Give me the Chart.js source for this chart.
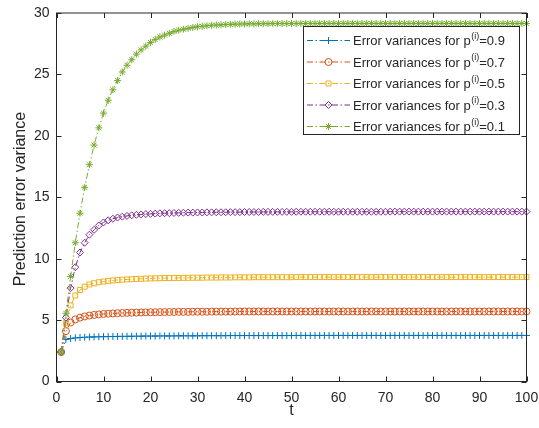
<!DOCTYPE html>
<html>
<head>
<meta charset="utf-8">
<title>Prediction error variance</title>
<script src="https://cdn.jsdelivr.net/npm/chart.js@4"></script>
<style>
  html, body { margin: 0; padding: 0; background: #fff; }
  #wrap { width: 539px; height: 428px; }
</style>
</head>
<body>
<div id="wrap"><canvas id="errChart" width="539" height="428"></canvas></div>
<script>
// time steps
const tValues = [
  1, 2, 3, 4, 5, 6, 7, 8, 9, 10,
  11, 12, 13, 14, 15, 16, 17, 18, 19, 20,
  21, 22, 23, 24, 25, 26, 27, 28, 29, 30,
  31, 32, 33, 34, 35, 36, 37, 38, 39, 40,
  41, 42, 43, 44, 45, 46, 47, 48, 49, 50,
  51, 52, 53, 54, 55, 56, 57, 58, 59, 60,
  61, 62, 63, 64, 65, 66, 67, 68, 69, 70,
  71, 72, 73, 74, 75, 76, 77, 78, 79, 80,
  81, 82, 83, 84, 85, 86, 87, 88, 89, 90,
  91, 92, 93, 94, 95, 96, 97, 98, 99, 100
];

const pLabels = ["0.9", "0.7", "0.5", "0.3", "0.1"];

const varP09 = [
  2.4, 3.42, 3.5, 3.55, 3.58, 3.6, 3.62, 3.63, 3.64, 3.65,
  3.66, 3.66, 3.67, 3.67, 3.68, 3.68, 3.69, 3.69, 3.7, 3.7,
  3.7, 3.71, 3.71, 3.71, 3.71, 3.72, 3.72, 3.72, 3.72, 3.72,
  3.73, 3.73, 3.73, 3.73, 3.73, 3.73, 3.74, 3.74, 3.74, 3.74,
  3.74, 3.74, 3.74, 3.74, 3.74, 3.74, 3.74, 3.74, 3.74, 3.74,
  3.75, 3.75, 3.75, 3.75, 3.75, 3.75, 3.75, 3.75, 3.75, 3.75,
  3.75, 3.75, 3.75, 3.75, 3.75, 3.75, 3.75, 3.75, 3.75, 3.75,
  3.75, 3.75, 3.75, 3.75, 3.75, 3.75, 3.75, 3.75, 3.75, 3.75,
  3.75, 3.75, 3.75, 3.75, 3.75, 3.75, 3.75, 3.75, 3.75, 3.75,
  3.75, 3.75, 3.75, 3.75, 3.75, 3.75, 3.75, 3.75, 3.75, 3.75
];

const varP07 = [
  2.4, 4.1, 4.8, 5.05, 5.2, 5.3, 5.37, 5.42, 5.46, 5.5,
  5.52, 5.54, 5.56, 5.58, 5.59, 5.6, 5.61, 5.62, 5.63, 5.64,
  5.64, 5.65, 5.65, 5.66, 5.66, 5.67, 5.67, 5.67, 5.68, 5.68,
  5.68, 5.68, 5.69, 5.69, 5.69, 5.69, 5.69, 5.7, 5.7, 5.7,
  5.7, 5.7, 5.7, 5.7, 5.7, 5.7, 5.7, 5.7, 5.7, 5.7,
  5.7, 5.7, 5.7, 5.7, 5.7, 5.7, 5.7, 5.7, 5.7, 5.7,
  5.7, 5.7, 5.7, 5.7, 5.7, 5.7, 5.7, 5.7, 5.7, 5.7,
  5.7, 5.7, 5.7, 5.7, 5.7, 5.7, 5.7, 5.7, 5.7, 5.7,
  5.7, 5.7, 5.7, 5.7, 5.7, 5.7, 5.7, 5.7, 5.7, 5.7,
  5.7, 5.7, 5.7, 5.7, 5.7, 5.7, 5.7, 5.7, 5.7, 5.7
];

const varP05 = [
  2.4, 4.75, 6.2, 7.0, 7.45, 7.72, 7.9, 8.0, 8.08, 8.14,
  8.19, 8.23, 8.26, 8.29, 8.31, 8.33, 8.35, 8.36, 8.38, 8.39,
  8.4, 8.41, 8.42, 8.42, 8.43, 8.43, 8.44, 8.44, 8.45, 8.45,
  8.45, 8.46, 8.46, 8.46, 8.47, 8.47, 8.47, 8.48, 8.48, 8.48,
  8.48, 8.49, 8.49, 8.49, 8.49, 8.49, 8.49, 8.49, 8.49, 8.49,
  8.5, 8.5, 8.5, 8.5, 8.5, 8.5, 8.5, 8.5, 8.5, 8.5,
  8.5, 8.5, 8.5, 8.5, 8.5, 8.5, 8.5, 8.5, 8.5, 8.5,
  8.5, 8.5, 8.5, 8.5, 8.5, 8.5, 8.5, 8.5, 8.5, 8.5,
  8.5, 8.5, 8.5, 8.5, 8.5, 8.5, 8.5, 8.5, 8.5, 8.5,
  8.5, 8.5, 8.5, 8.5, 8.5, 8.5, 8.5, 8.5, 8.5, 8.5
];

const varP03 = [
  2.4, 5.2, 7.6, 9.3, 10.5, 11.3, 11.95, 12.35, 12.7, 12.95,
  13.12, 13.25, 13.35, 13.42, 13.48, 13.53, 13.57, 13.6, 13.63, 13.65,
  13.67, 13.69, 13.7, 13.71, 13.72, 13.73, 13.74, 13.75, 13.75, 13.76,
  13.76, 13.77, 13.77, 13.78, 13.78, 13.78, 13.79, 13.79, 13.79, 13.8,
  13.8, 13.8, 13.8, 13.81, 13.81, 13.81, 13.81, 13.81, 13.81, 13.81,
  13.82, 13.82, 13.82, 13.82, 13.82, 13.82, 13.82, 13.82, 13.82, 13.82,
  13.82, 13.82, 13.82, 13.82, 13.82, 13.82, 13.82, 13.82, 13.82, 13.82,
  13.83, 13.83, 13.83, 13.83, 13.83, 13.83, 13.83, 13.83, 13.83, 13.83,
  13.83, 13.83, 13.83, 13.83, 13.83, 13.83, 13.83, 13.83, 13.83, 13.83,
  13.83, 13.83, 13.83, 13.83, 13.83, 13.83, 13.83, 13.83, 13.83, 13.83
];

const varP01 = [
  2.4, 5.55, 8.55, 11.3, 13.7, 15.8, 17.65, 19.25, 20.65, 21.85,
  22.9, 23.75, 24.5, 25.2, 25.75, 26.2, 26.65, 27.0, 27.3, 27.6,
  27.85, 28.05, 28.2, 28.35, 28.5, 28.6, 28.68, 28.75, 28.82, 28.88,
  28.92, 28.96, 29.0, 29.02, 29.04, 29.06, 29.08, 29.09, 29.1, 29.11,
  29.12, 29.12, 29.13, 29.13, 29.13, 29.14, 29.14, 29.14, 29.14, 29.14,
  29.15, 29.15, 29.15, 29.15, 29.15, 29.15, 29.15, 29.15, 29.15, 29.15,
  29.15, 29.15, 29.15, 29.15, 29.15, 29.15, 29.15, 29.15, 29.15, 29.15,
  29.15, 29.15, 29.15, 29.15, 29.15, 29.15, 29.15, 29.15, 29.15, 29.15,
  29.15, 29.15, 29.15, 29.15, 29.15, 29.15, 29.15, 29.15, 29.15, 29.15,
  29.15, 29.15, 29.15, 29.15, 29.15, 29.15, 29.15, 29.15, 29.15, 29.15
];

const xTicks = [0, 10, 20, 30, 40, 50, 60, 70, 80, 90, 100];
const yTicks = [0, 5, 10, 15, 20, 25, 30];

const FONT = "'Liberation Sans', Arial, Helvetica, sans-serif";
const AXIS_COLOR = "#262626";
const DASH_DOT = [6, 2.5, 1.5, 2.5];

function makeSeries(values, label, color, style, order) {
  return {
    label: label,
    data: tValues.map((t, i) => ({ x: t, y: values[i] })),
    borderColor: color,
    backgroundColor: "rgba(0,0,0,0)",
    borderWidth: 1,
    borderDash: DASH_DOT,
    pointStyle: style,
    pointRadius: 3.5,
    pointBorderWidth: 1,
    pointBorderColor: color,
    pointBackgroundColor: "rgba(0,0,0,0)",
    tension: 0,
    clip: 6,
    order: order,
  };
}

// box with inward ticks on all four sides, like matlab
const axesBoxPlugin = {
  id: "axesBox",
  afterDatasetsDraw(chart) {
    const { ctx, chartArea: a, scales } = chart;
    ctx.save();
    ctx.strokeStyle = AXIS_COLOR;
    ctx.lineWidth = 1;
    ctx.strokeRect(a.left, a.top, a.right - a.left, a.bottom - a.top);
    const len = 5;
    ctx.beginPath();
    xTicks.forEach((v) => {
      const x = Math.round(scales.x.getPixelForValue(v)) + 0.5;
      ctx.moveTo(x, a.bottom); ctx.lineTo(x, a.bottom - len);
      ctx.moveTo(x, a.top); ctx.lineTo(x, a.top + len);
    });
    yTicks.forEach((v) => {
      const y = Math.round(scales.y.getPixelForValue(v)) + 0.5;
      ctx.moveTo(a.left, y); ctx.lineTo(a.left + len, y);
      ctx.moveTo(a.right, y); ctx.lineTo(a.right - len, y);
    });
    ctx.stroke();
    ctx.restore();
  },
};

const axisTitlePlugin = {
  id: "axisTitles",
  afterDraw(chart) {
    const { ctx, chartArea: a } = chart;
    ctx.save();
    ctx.fillStyle = AXIS_COLOR;
    ctx.font = "16px " + FONT;
    ctx.textAlign = "center";
    ctx.textBaseline = "middle";
    ctx.fillText("t", (a.left + a.right) / 2, 411);
    ctx.translate(21, 199);
    ctx.rotate(-Math.PI / 2);
    ctx.fillText("Prediction error variance", 0, 0);
    ctx.restore();
  },
};

const legendBoxPlugin = {
  id: "legendBox",
  afterDraw(chart) {
    const ctx = chart.ctx;
    const box = { left: 303.5, top: 26.5, right: 519.5, bottom: 134.5 };
    ctx.save();
    ctx.fillStyle = "#fff";
    ctx.fillRect(box.left, box.top, box.right - box.left, box.bottom - box.top);
    ctx.strokeStyle = AXIS_COLOR;
    ctx.lineWidth = 1;
    ctx.strokeRect(box.left, box.top, box.right - box.left, box.bottom - box.top);

    chart.data.datasets.forEach((ds, i) => {
      const y = 40.5 + i * 21.5;
      ctx.strokeStyle = ds.borderColor;
      ctx.lineWidth = 1;
      ctx.setLineDash(ds.borderDash);
      ctx.beginPath();
      ctx.moveTo(307, y);
      ctx.lineTo(350, y);
      ctx.stroke();
      ctx.setLineDash([]);
      ctx.fillStyle = "rgba(0,0,0,0)";
      Chart.helpers.drawPoint(ctx, {
        pointStyle: ds.pointStyle, radius: 3.5, rotation: 0, borderWidth: 1,
      }, 328.5, y);

      ctx.fillStyle = AXIS_COLOR;
      ctx.textAlign = "left";
      ctx.textBaseline = "middle";
      ctx.font = "13px " + FONT;
      const main = "Error variances for p";
      ctx.fillText(main, 353, y + 1);
      let x = 353 + ctx.measureText(main).width;
      ctx.font = "9px " + FONT;
      ctx.fillText("(i)", x + 0.5, y - 4);
      x += ctx.measureText("(i)").width + 0.5;
      ctx.font = "13px " + FONT;
      ctx.fillText("=" + pLabels[i], x, y + 1);
    });
    ctx.restore();
  },
};

const ctx = document.getElementById("errChart").getContext("2d");
new Chart(ctx, {
  type: "line",
  data: {
    datasets: [
      makeSeries(varP09, "Error variances for p(i)=0.9", "#0072BD", "cross", 5),
      makeSeries(varP07, "Error variances for p(i)=0.7", "#D95319", "circle", 4),
      makeSeries(varP05, "Error variances for p(i)=0.5", "#EDB120", "rect", 3),
      makeSeries(varP03, "Error variances for p(i)=0.3", "#7E2F8E", "rectRot", 2),
      makeSeries(varP01, "Error variances for p(i)=0.1", "#77AC30", "star", 1),
    ],
  },
  options: {
    responsive: false,
    animation: false,
    layout: { padding: { left: 0, right: 12.5, top: 13, bottom: 0 } },
    scales: {
      x: {
        type: "linear",
        min: 0,
        max: 100,
        afterBuildTicks: (scale) => { scale.ticks = xTicks.map((v) => ({ value: v })); },
        afterFit: (scale) => {
          scale.height = 46.5;
          scale.paddingLeft = 0;
          scale.paddingRight = 0;
        },
        grid: { display: false, drawTicks: false },
        border: { display: false },
        ticks: { color: AXIS_COLOR, font: { size: 14, family: FONT }, padding: 8, maxRotation: 0 },
      },
      y: {
        min: 0,
        max: 30,
        afterBuildTicks: (scale) => { scale.ticks = yTicks.map((v) => ({ value: v })); },
        afterFit: (scale) => {
          scale.width = 56.5;
          scale.paddingTop = 0;
          scale.paddingBottom = 0;
        },
        grid: { display: false, drawTicks: false },
        border: { display: false },
        ticks: { color: AXIS_COLOR, font: { size: 14, family: FONT }, padding: 7 },
      },
    },
    plugins: {
      legend: { display: false },
      tooltip: { enabled: false },
    },
  },
  plugins: [axesBoxPlugin, axisTitlePlugin, legendBoxPlugin],
});
</script>
</body>
</html>
